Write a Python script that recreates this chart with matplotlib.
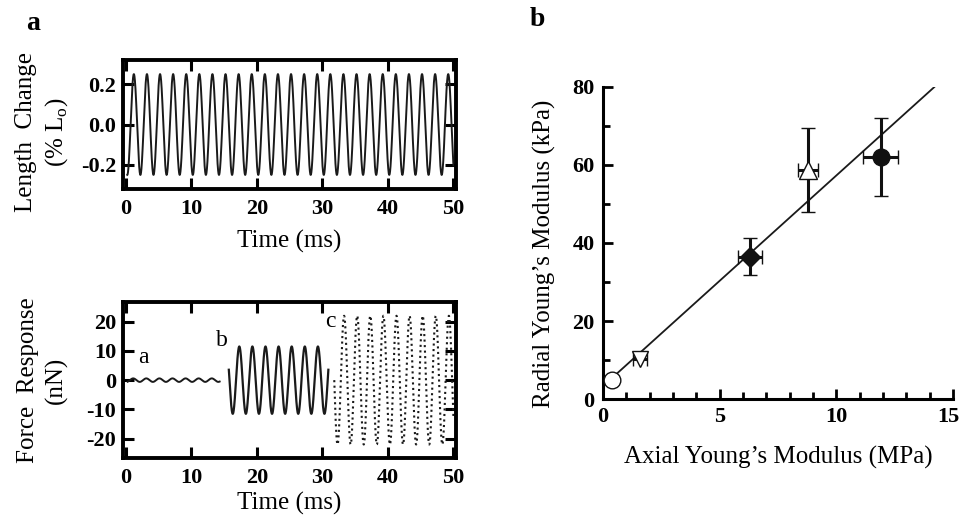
import matplotlib
matplotlib.use('Agg')
import matplotlib.pyplot as plt
import matplotlib.transforms as mtrans
import numpy as np
from matplotlib.ticker import MultipleLocator

plt.rcParams['font.family'] = ['Liberation Serif', 'DejaVu Serif']
plt.rcParams['axes.unicode_minus'] = False
plt.rcParams['mathtext.fontset'] = 'custom'
plt.rcParams['mathtext.rm'] = 'Liberation Serif'

# --- panel a: sinusoidal stimulus / responses (ms) ---
period = 2.0                      # ms
length_span = [0.2, 50.0]         # ms
length_amp = 0.25                 # % Lo
length_peak = 1.2                 # time of first peak, ms

force_names = ['a', 'b', 'c']
force_start = [0.25, 15.7, 31.8]
force_end = [14.3, 30.9, 50.0]
force_amp = [0.6, 11.5, 22.0]     # nN
force_peak = [1.1, 17.3, 33.3]

# --- panel b: radial vs axial modulus ---
axial = [0.4, 1.6, 6.3, 8.8, 11.9]          # MPa
axial_err = [0.0, 0.3, 0.5, 0.43, 0.74]
radial = [5.0, 10.2, 36.5, 58.7, 62.1]      # kPa
radial_err = [0.0, 0.0, 4.8, 10.7, 10.0]
fit_slope = 5.4
fit_icpt = 3.3
fit_x = [0.4, 14.2]


def wave(t0, t1, amp, tpk):
    t = np.linspace(t0, t1, 3000)
    return t, amp * np.cos(2 * np.pi * (t - tpk) / period)


def bold_ticks(ax):
    for lab in ax.get_xticklabels() + ax.get_yticklabels():
        lab.set_fontweight('bold')


fig = plt.figure(figsize=(9.62, 5.19), dpi=100)

ax1 = fig.add_axes([0.1279, 0.6358, 0.3462, 0.2486])
ax2 = fig.add_axes([0.1279, 0.1170, 0.3462, 0.3011])
ax3 = fig.add_axes([0.6268, 0.2312, 0.3638, 0.6012])

# length change
t, y = wave(length_span[0], length_span[1], length_amp, length_peak)
ax1.plot(t, y, color='#1a1a1a', lw=1.4)
ax1.set_xlim(-0.45, 50.4)
ax1.set_ylim(-0.32, 0.32)
ax1.set_xticks(np.arange(0, 51, 10))
ax1.set_yticks([-0.2, 0.0, 0.2])
ax1.set_yticklabels(['-0.2', '0.0', '0.2'])

# force response
styles = ['-', '-', ':']
widths = [1.4, 1.6, 1.5]
for i in range(3):
    t, y = wave(force_start[i], force_end[i], force_amp[i], force_peak[i])
    ax2.plot(t, y, color='#1a1a1a', lw=widths[i], ls=styles[i])
ax2.text(2.6, 7.7, force_names[0], fontsize=17, ha='center', va='center')
ax2.text(14.6, 13.4, force_names[1], fontsize=17, ha='center', va='center')
ax2.text(31.2, 20.2, force_names[2], fontsize=17, ha='center', va='center')
ax2.set_xlim(-0.45, 50.4)
ax2.set_ylim(-26.7, 26.7)
ax2.set_xticks(np.arange(0, 51, 10))
ax2.set_yticks(np.arange(-20, 21, 10))

for ax in (ax1, ax2):
    for s in ax.spines.values():
        s.set_linewidth(2.8)
    ax.tick_params(direction='in', top=True, right=True, length=8, width=2.2,
                   labelsize=16, pad=5)
    ax.tick_params(axis='x', pad=7)
    bold_ticks(ax)

# modulus panel
fit_line = np.linspace(fit_x[0], fit_x[1], 2)
ax3.plot(fit_line, fit_icpt + fit_slope * fit_line, color='#1a1a1a', lw=1.3, zorder=2)
marks = ['o', 'v', 'D', '^', 'o']
faces = ['white', 'white', '#111111', 'white', '#111111']
sizes = [12, 12, 10, 13, 12]
for i in range(len(axial)):
    xe = axial_err[i] if axial_err[i] > 0 else None
    ye = radial_err[i] if radial_err[i] > 0 else None
    ax3.errorbar(axial[i], radial[i], xerr=xe, yerr=ye, fmt=marks[i],
                 mfc=faces[i], mec='#111111', mew=1.0, ms=sizes[i],
                 ecolor='#111111', elinewidth=2.2, capsize=5, capthick=2.2,
                 zorder=3, clip_on=False)
ax3.set_xlim(0, 15)
ax3.set_ylim(0, 80)
ax3.set_xticks([0, 5, 10, 15])
ax3.xaxis.set_minor_locator(MultipleLocator(1))
ax3.yaxis.set_major_locator(MultipleLocator(20))
ax3.yaxis.set_minor_locator(MultipleLocator(10))
ax3.spines['top'].set_visible(False)
ax3.spines['right'].set_visible(False)
for s in ('left', 'bottom'):
    ax3.spines[s].set_linewidth(2.2)
ax3.tick_params(which='major', direction='in', length=7, width=2, labelsize=16, pad=6)
ax3.tick_params(which='minor', direction='in', length=5, width=2)
bold_ticks(ax3)

# keep the last x label ("15") inside the picture
fig.canvas.draw()
last = ax3.xaxis.get_major_ticks()[-1].label1
last.set_transform(last.get_transform() +
                   mtrans.ScaledTranslation(-3 / 72, 0, fig.dpi_scale_trans))

# axis labels
fig.text(289.5 / 962, 1 - 241 / 519, 'Time (ms)', fontsize=18, ha='center', va='center')
fig.text(289.5 / 962, 1 - 503 / 519, 'Time (ms)', fontsize=18, ha='center', va='center')
fig.text(42.5 / 962, 1 - 132 / 519, 'Length  Change\n(% L$_\\mathregular{o}$)', fontsize=18,
         ha='center', va='center', rotation=90, linespacing=1.35)
fig.text(42.5 / 962, 1 - 380 / 519, 'Force  Response\n(nN)', fontsize=18,
         ha='center', va='center', rotation=90, linespacing=1.35)
fig.text(544 / 962, 1 - 254 / 519, 'Radial Young\u2019s Modulus (kPa)', fontsize=18,
         ha='center', va='center', rotation=90)
fig.text(778 / 962, 1 - 457 / 519, 'Axial Young\u2019s Modulus (MPa)', fontsize=18,
         ha='center', va='center')

fig.text(33 / 962, 1 - 23 / 519, 'a', fontsize=20, fontweight='bold', ha='center', va='center')
fig.text(537 / 962, 1 - 20 / 519, 'b', fontsize=20, fontweight='bold', ha='center', va='center')

fig.savefig('out.png', dpi=100)
